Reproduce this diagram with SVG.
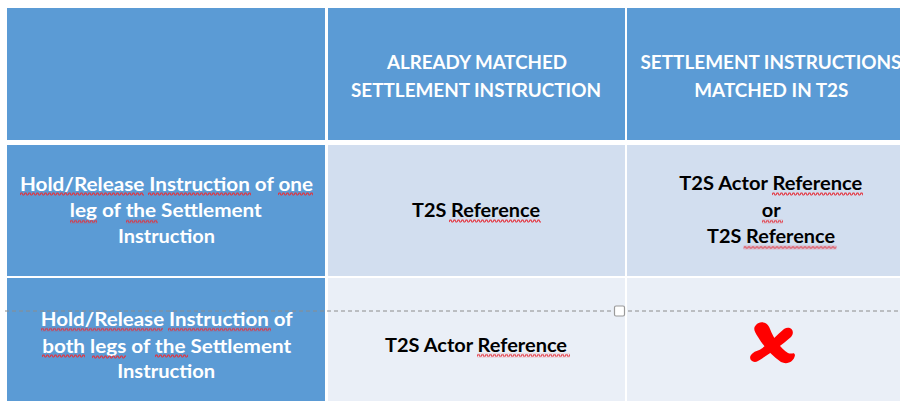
<svg xmlns="http://www.w3.org/2000/svg" width="900" height="401" viewBox="0 0 900 401">
<defs>
<style>
.hdr{fill:#5B9BD5}
.c2{fill:#D2DEEF}
.c3{fill:#EAEFF7}
.t{font-family:Lato,"Liberation Sans",sans-serif;font-weight:bold;font-size:19px;text-anchor:middle}
.w{fill:#FFFFFF}
.k{fill:#000000}
.sq{fill:url(#squig)}
</style>
<pattern id="squig" patternUnits="userSpaceOnUse" x="0" y="0" width="4" height="4">
<polyline points="0,3 1,1 2,1 3,3 4,3" fill="none" stroke="#E5303A" stroke-width="1.1"/>
</pattern>
</defs>
<rect x="0" y="0" width="900" height="401" fill="#FFFFFF"/>

<g id="header-empty">
<rect class="hdr" x="7" y="8" width="318" height="132"/>
</g>
<g id="header-already-matched">
<rect class="hdr" x="328" y="8" width="297" height="132"/>
<text class="t w" x="477" y="69" textLength="180" lengthAdjust="spacingAndGlyphs">ALREADY MATCHED</text>
<text class="t w" x="476" y="96.7" textLength="250" lengthAdjust="spacingAndGlyphs">SETTLEMENT INSTRUCTION</text>
</g>
<g id="header-matched-in-t2s">
<rect class="hdr" x="627" y="8" width="273" height="132"/>
<text class="t w" x="771" y="69" textLength="261" lengthAdjust="spacingAndGlyphs">SETTLEMENT INSTRUCTIONS</text>
<text class="t w" x="771.3" y="96.7" textLength="154" lengthAdjust="spacingAndGlyphs">MATCHED IN T2S</text>
</g>

<g id="row1-label">
<rect class="hdr" x="7" y="145" width="318" height="131"/>
<text class="t w" x="166.5" y="190.5" textLength="293" lengthAdjust="spacingAndGlyphs">Hold/Release Instruction of one</text>
<text class="t w" x="165.8" y="217" textLength="192" lengthAdjust="spacingAndGlyphs">leg of the Settlement</text>
<text class="t w" x="166.5" y="243.3" textLength="97" lengthAdjust="spacingAndGlyphs">Instruction</text>
<rect class="sq" width="124" height="4" transform="translate(20,192)"/>
<rect class="sq" width="103" height="4" transform="translate(148,192)"/>
<rect class="sq" width="35" height="4" transform="translate(278,192)"/>
<rect class="sq" width="27" height="4" transform="translate(70,219.5)"/>
<rect class="sq" width="32" height="4" transform="translate(126,219.5)"/>
</g>
<g id="row1-already-matched">
<rect class="c2" x="328" y="145" width="297" height="131"/>
<text class="t k" x="476" y="216.7" textLength="128" lengthAdjust="spacingAndGlyphs">T2S Reference</text>
<rect class="sq" width="92" height="4" transform="translate(449,219)"/>
</g>
<g id="row1-matched-in-t2s">
<rect class="c2" x="627" y="145" width="273" height="131"/>
<text class="t k" x="770.8" y="190" textLength="183" lengthAdjust="spacingAndGlyphs">T2S Actor Reference</text>
<text class="t k" x="771.2" y="217" textLength="19" lengthAdjust="spacingAndGlyphs">or</text>
<text class="t k" x="771" y="243.3" textLength="128" lengthAdjust="spacingAndGlyphs">T2S Reference</text>
<rect class="sq" width="91" height="4" transform="translate(772,192)"/>
<rect class="sq" width="21" height="4" transform="translate(762,219.5)"/>
<rect class="sq" width="93" height="4" transform="translate(743.5,245.5)"/>
</g>

<g id="row2-label">
<rect class="hdr" x="7" y="278" width="318" height="123"/>
<text class="t w" x="166.7" y="326" textLength="252" lengthAdjust="spacingAndGlyphs">Hold/Release Instruction of</text>
<text class="t w" x="166.7" y="352.5" textLength="249" lengthAdjust="spacingAndGlyphs">both legs of the Settlement</text>
<text class="t w" x="166.2" y="378.3" textLength="98" lengthAdjust="spacingAndGlyphs">Instruction</text>
<rect class="sq" width="122" height="4" transform="translate(41,327.5)"/>
<rect class="sq" width="103" height="4" transform="translate(168,327.5)"/>
<rect class="sq" width="43" height="4" transform="translate(42,354)"/>
<rect class="sq" width="34" height="4" transform="translate(92,355)"/>
<rect class="sq" width="33" height="4" transform="translate(155,354)"/>
</g>
<g id="row2-already-matched">
<rect class="c3" x="328" y="278" width="297" height="123"/>
<text class="t k" x="476" y="351.7" textLength="182" lengthAdjust="spacingAndGlyphs">T2S Actor Reference</text>
<rect class="sq" width="93" height="4" transform="translate(477,353.5)"/>
</g>
<g id="row2-matched-in-t2s">
<rect class="c3" x="627" y="278" width="273" height="123"/>
<path d="M756,325 C760,320 768,322 770,329 C774,339 780,348 788,353 C792,355 794,351 795,355 C794,362 787,365 781,362 C772,356 764,347 758,337 C754,331 753,328 756,325 Z" fill="#FF0000"/>
<path d="M784,329 C790,325 796,331 791,337 C781,346 769,354 758,361 C753,364 748,359 751,355 C754,351 758,351 761,349 C770,343 777,335 784,329 Z" fill="#FF0000"/>
</g>

<g id="connectors">
<line x1="5" y1="311" x2="900" y2="311" stroke="#8C8C8C" stroke-width="1" stroke-dasharray="4,3"/>
<rect x="614.5" y="306" width="10" height="10" rx="1.5" fill="#FFFFFF" stroke="#9A9A9A" stroke-width="1.2"/>
</g>
</svg>
